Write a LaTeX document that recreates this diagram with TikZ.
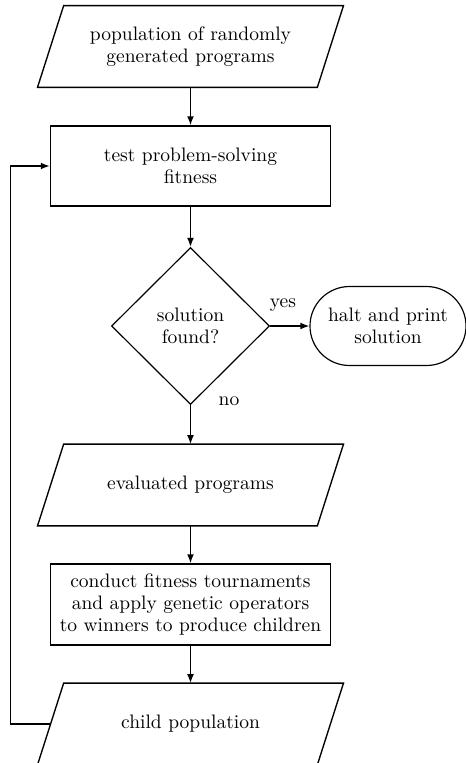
\documentclass[tikz,border=0pt]{standalone}
\usetikzlibrary{shapes.geometric,shapes.misc,arrows.meta}
\begin{document}
\begin{tikzpicture}[x=0.5128pt,y=-0.5128pt,
  txt/.style={font=\fontsize{10}{11.5}\selectfont, align=center, inner sep=0pt},
  procbox/.style={txt, draw, line width=0.75pt, rectangle, minimum width=143.6pt, minimum height=41pt},
  iobox/.style={txt, rectangle, minimum width=143.1pt, minimum height=41.5pt},
  ioline/.style={line width=0.7pt, line join=miter},
  decbox/.style={txt, draw, line width=0.6pt, diamond, minimum width=81pt, minimum height=80.5pt},
  termbox/.style={txt, draw, line width=0.6pt, rounded rectangle, minimum width=80pt, minimum height=40.5pt},
  conn/.style={line width=0.75pt, -{Latex[length=4.6pt,width=3.5pt]}},
  lbl/.style={font=\fontsize{10}{12}\selectfont, inner sep=0pt}]
\useasboundingbox (0,0) rectangle (466,763);

\node[iobox] (p1) at (190.5,46.5) {population of randomly\\generated programs};
\node[procbox] (r1) at (190.5,166) {test problem-solving\\fitness};
\node[decbox] (d) at (190.5,326) {solution\\found?};
\node[termbox] (t) at (388,326) {halt and print\\solution};
\node[iobox] (p2) at (190.5,485) {evaluated programs};
\node[procbox, minimum height=41.5pt] (r2) at (190.5,604.5) {conduct fitness tournaments\\and apply genetic operators\\to winners to produce children};
\node[iobox] (p3) at (190.5,724) {child population};

\foreach \n in {p1,p2,p3}
  \draw[ioline] ([xshift=6.7pt]\n.north west) -- ([xshift=6.7pt]\n.north east)
    -- ([xshift=-6.7pt]\n.south east) -- ([xshift=-6.7pt]\n.south west) -- cycle;

\node[lbl] (yes) at (283,305) {yes};
\node[lbl] (no) at (229,401) {no};

\draw[conn] (p1) -- (r1);
\draw[conn] (r1) -- (d);
\draw[conn] (d.east) -- (t.west);
\draw[conn] (d.south) -- (p2.north);
\draw[conn] (p2) -- (r2);
\draw[conn] (r2) -- (p3);
\draw[conn] (p3.west) -- ++(-40,0) |- (r1.west);
\end{tikzpicture}
\end{document}
